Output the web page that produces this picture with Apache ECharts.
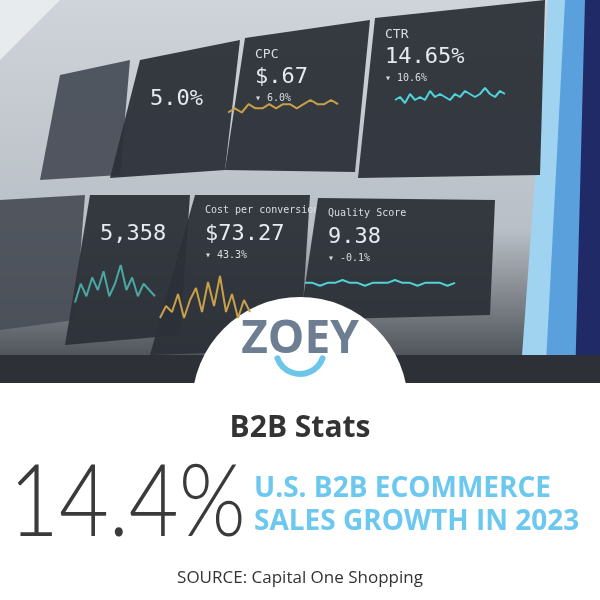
<!DOCTYPE html>
<html><head><meta charset="utf-8">
<script src="https://cdn.jsdelivr.net/npm/echarts@6/dist/echarts.min.js"></script>
<style>html,body{margin:0;padding:0;background:#fff}#c{width:600px;height:600px}</style>
</head><body><div id="c"></div>
<script>
const statValue = "14.4%";
const statTitle = "B2B Stats";
const statLines = ["U.S. B2B ECOMMERCE", "SALES GROWTH IN 2023"];
const sourceText = "SOURCE: Capital One Shopping";
const ctrSpark = [5,6,4,7,5,6,5,8,6,7,6,5,7,6,8,7,6,7,9,7,6,8,7];
const qsSpark = [6,6,5,6,6,7,6,6,5,6,6,6,7,6,6,5,6,6,6,5,6];
const cpcSpark = [3,4,3,5,4,4,5,4,5,5,4,5,6,5,5,6,5];
const cpcoSpark = [2,4,3,6,2,5,7,3,8,4,9,3,6,2,5,3];
const convSpark = [2,5,3,6,4,7,3,5,8,4,6,3,5,4,3];
const panels = [
  {pts:[[60,75],[130,60],[120,175],[40,180]], title:"", big:"", sub:""},
  {pts:[[140,60],[240,40],[225,170],[110,178]], title:"", big:"5.0%", sub:""},
  {pts:[[245,38],[370,20],[355,172],[225,170]], title:"CPC", big:"$.67", sub:"▾ 6.0%"},
  {pts:[[375,18],[545,0],[540,175],[358,178]], title:"CTR", big:"14.65%", sub:"▾ 10.6%"},
  {pts:[[0,200],[85,195],[75,320],[0,330]], title:"", big:"", sub:""},
  {pts:[[90,195],[190,195],[180,335],[65,345]], title:"", big:"5,358", sub:""},
  {pts:[[195,195],[310,195],[300,350],[150,355]], title:"Cost per conversion", big:"$73.27", sub:"▾ 43.3%"},
  {pts:[[318,198],[495,200],[490,315],[300,320]], title:"Quality Score", big:"9.38", sub:"▾ -0.1%"}
];
const chart = echarts.init(document.getElementById('c'));
const g = [];
g.push({type:'rect',shape:{x:0,y:0,width:600,height:383},style:{fill:{type:'linear',x:0,y:0,x2:0,y2:1,colorStops:[{offset:0,color:'#cfd4da'},{offset:0.6,color:'#b9bfc6'},{offset:1,color:'#3a3d44'}]}}});
g.push({type:'polygon',shape:{points:[[0,0],[60,0],[0,60]]},style:{fill:'#e8ebee'}});
g.push({type:'polygon',shape:{points:[[548,0],[600,0],[600,383],[560,383]]},style:{fill:'#1f2a66'}});
g.push({type:'polygon',shape:{points:[[560,0],[585,0],[575,383],[545,383]]},style:{fill:'#5aa0dc'}});
g.push({type:'polygon',shape:{points:[[548,0],[565,0],[545,383],[520,383]]},style:{fill:'#9fd3f0'}});
g.push({type:'rect',shape:{x:0,y:355,width:600,height:28},style:{fill:'#2d3036'}});
panels.forEach((p,i)=>{
  g.push({type:'polygon',shape:{points:p.pts},style:{fill:i===0||i===4?'#4a4f58':'#2c3038',opacity:0.95}});
  const x=p.pts[0][0]+10, y=p.pts[0][1]+10;
  if(p.title) g.push({type:'text',x:x,y:y,style:{text:p.title,fill:'#d8dde2',font:(p.title.length>12?'10px':'13px')+' "DejaVu Sans Mono"'}});
  if(p.big) g.push({type:'text',x:x,y:y+18,style:{text:p.big,fill:'#e6eaee',font:'22px "DejaVu Sans Mono"'}});
  if(p.sub) g.push({type:'text',x:x,y:y+45,style:{text:p.sub,fill:'#d8dde2',font:'10px "DejaVu Sans Mono"'}});
});
g.push({type:'circle',shape:{cx:300,cy:405,r:108},style:{fill:'#fff'}});
g.push({type:'text',x:300,y:340,style:{text:'ZOEY',fill:'#6d7d92',font:'bold 46px "Open Sans"',align:'center',verticalAlign:'middle'}});
g.push({type:'arc',shape:{cx:300,cy:350,r:24,startAngle:0.35,endAngle:Math.PI-0.35},style:{stroke:'#6cc6ea',lineWidth:6,fill:null,lineCap:'round'}});
g.push({type:'text',x:300,y:428,style:{text:statTitle,fill:'#333',font:'bold 30px "Open Sans"',align:'center',verticalAlign:'middle'}});
g.push({type:'text',x:9,y:503,scaleY:1.18,style:{text:statValue,fill:'#3a3a3a',font:'300 86px Lato',verticalAlign:'middle'}});
statLines.forEach((t,i)=>g.push({type:'text',x:254,y:489+i*33,style:{text:t,fill:'#6cc8ee',font:'bold 28px "Open Sans"',verticalAlign:'middle'}}));
g.push({type:'text',x:300,y:578,style:{text:sourceText,fill:'#333',font:'17px "Open Sans"',align:'center',verticalAlign:'middle'}});
const sparks=[[ctrSpark,{left:395,top:85,width:110,height:30},'#4fd3d8'],[qsSpark,{left:305,top:280,width:150,height:20},'#4fd3d8'],[cpcSpark,{left:228,top:100,width:110,height:25},'#c9a04a'],[cpcoSpark,{left:160,top:270,width:90,height:60},'#c9a04a'],[convSpark,{left:75,top:265,width:80,height:50},'#4aa8a0']];
const grids=[],xs=[],ys=[],series=[];
sparks.forEach((s,i)=>{grids.push(s[1]);xs.push({type:'category',gridIndex:i,show:false,boundaryGap:false,data:s[0].map((_,k)=>k)});ys.push({type:'value',gridIndex:i,show:false,min:0});series.push({type:'line',xAxisIndex:i,yAxisIndex:i,data:s[0],symbol:'none',lineStyle:{color:s[2],width:2},z:5});});
chart.setOption({animation:false,grid:grids,xAxis:xs,yAxis:ys,series:series,graphic:{elements:g}});
</script></body></html>
